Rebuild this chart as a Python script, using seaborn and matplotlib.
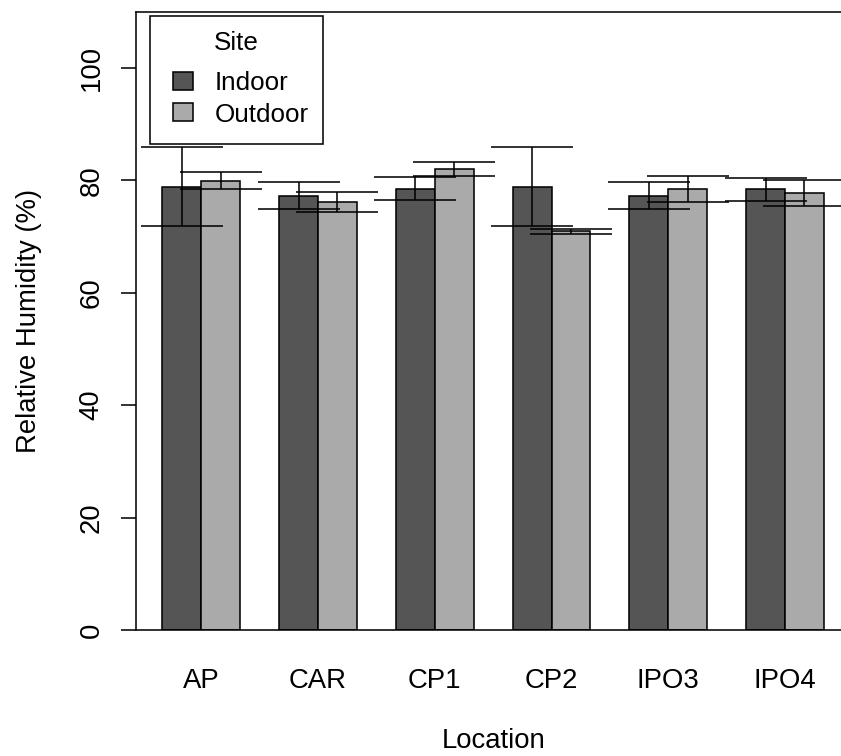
import matplotlib
matplotlib.use("Agg")
import matplotlib.pyplot as plt
from matplotlib.patches import Patch, Rectangle
import seaborn as sns
import pandas as pd

# ---- data ----
locations = ["AP", "CAR", "CP1", "CP2", "IPO3", "IPO4"]
sites = ["Indoor", "Outdoor"]
indoor_mean = [78.9, 77.3, 78.5, 78.9, 77.3, 78.4]
indoor_err = [7.0, 2.4, 2.05, 7.0, 2.4, 2.1]
outdoor_mean = [79.95, 76.15, 82.0, 70.9, 78.45, 77.7]
outdoor_err = [1.45, 1.75, 1.2, 0.45, 2.35, 2.3]
yticks = [0, 20, 40, 60, 80, 100]
colors = ["#555555", "#AAAAAA"]

plt.rcParams["font.family"] = ["Liberation Sans", "DejaVu Sans"]
plt.rcParams["text.color"] = "black"
plt.rcParams["axes.labelcolor"] = "black"
plt.rcParams["xtick.color"] = "black"
plt.rcParams["ytick.color"] = "black"

W, H = 841, 756
DPI = 150
fig = plt.figure(figsize=(W / DPI, H / DPI), dpi=DPI)
fx = lambda px: px / W
fy = lambda py: 1 - py / H

left, right, top, bottom = 135.9, 850.4, 11.7, 630.0
ax = fig.add_axes([fx(left), fy(bottom), fx(right) - fx(left), fy(top) - fy(bottom)])
ax.set_facecolor("white")

df = pd.DataFrame({
    "Location": locations * 2,
    "Site": [sites[0]] * len(locations) + [sites[1]] * len(locations),
    "RH": indoor_mean + outdoor_mean,
})

sns.barplot(data=df, x="Location", y="RH", hue="Site", hue_order=sites,
            order=locations, palette=colors, saturation=1, width=2 / 3, gap=0,
            edgecolor="black", linewidth=0.75, errorbar=None, legend=False, ax=ax)

for cont, means, errs in zip(ax.containers, [indoor_mean, outdoor_mean],
                             [indoor_err, outdoor_err]):
    xs = [b.get_x() + b.get_width() / 2 for b in cont]
    ax.errorbar(xs, means, yerr=errs, fmt="none", ecolor="black",
                elinewidth=0.75, capsize=19.7, capthick=0.75, zorder=3)

ax.set_xlim(-0.56, 5.56)
ax.set_ylim(0, 110)
ax.set_yticks(yticks)
ax.set_yticklabels([str(t) for t in yticks])
ax.tick_params(axis="y", length=7.2, width=0.75, pad=7.7, labelsize=13.2,
               labelrotation=90, direction="out")
for lab in ax.get_yticklabels():
    lab.set_va("center")
ax.tick_params(axis="x", length=0, pad=18.2, labelsize=13.2)

for sp in ax.spines.values():
    sp.set_visible(True)
    sp.set_color("black")
    sp.set_linewidth(0.75)

ax.set_xlabel("Location", fontsize=13.2, labelpad=16.6)
ax.set_ylabel("Relative Humidity (%)", fontsize=13.2, labelpad=17.8)
ax.grid(False)

# ---- legend ----
frame = Rectangle((fx(150), fy(144)), fx(323) - fx(150), fy(15.7) - fy(144),
                  transform=fig.transFigure, facecolor="white",
                  edgecolor="black", linewidth=0.75, zorder=5)
fig.add_artist(frame)
fig.text(fx(236.5), fy(49.5), "Site", ha="center", va="baseline",
         fontsize=12.5, zorder=6)
handles = [Patch(facecolor=c, edgecolor="black", linewidth=0.75, label=s)
           for c, s in zip(colors, sites)]
leg = ax.legend(handles=handles, loc="upper left",
                bbox_to_anchor=(fx(173), fy(71)), bbox_transform=fig.transFigure,
                frameon=False, borderpad=0, borderaxespad=0,
                handlelength=0.77, handleheight=0.69, handletextpad=0.84,
                labelspacing=0.29, fontsize=12.5)
leg.set_zorder(7)
fig.add_artist(leg)

fig.savefig("out.png", dpi=DPI)
